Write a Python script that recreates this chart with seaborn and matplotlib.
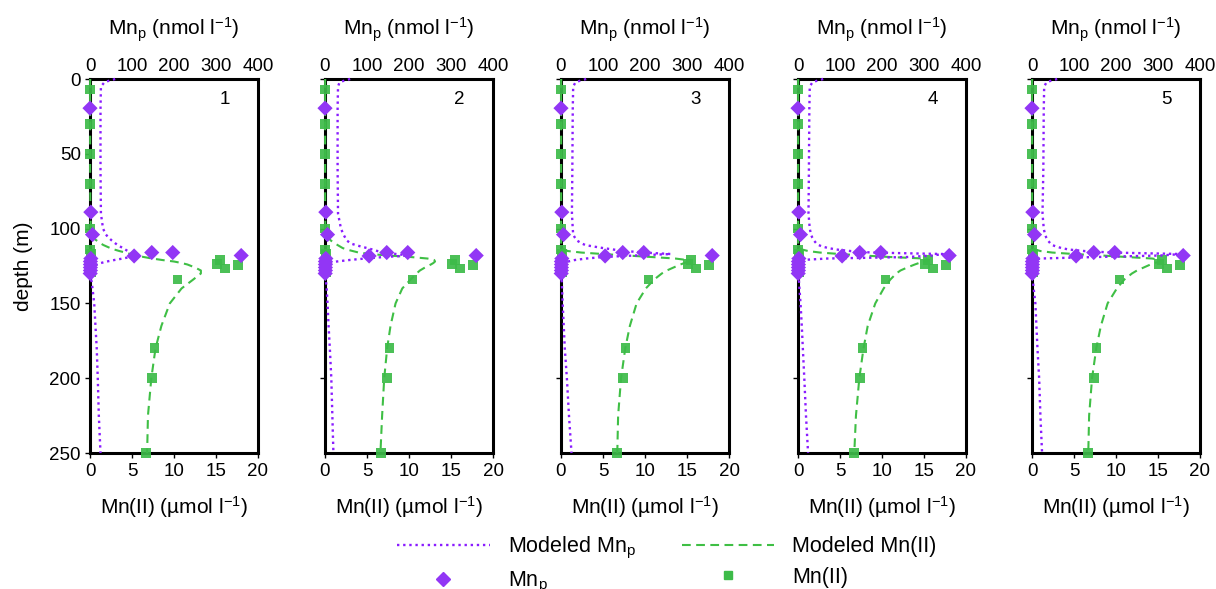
import matplotlib
matplotlib.use("Agg")
import matplotlib.pyplot as plt
from matplotlib.lines import Line2D
import seaborn as sns

sns.set_theme(style="white")
plt.rcParams["font.family"] = ["Liberation Sans", "DejaVu Sans"]
plt.rcParams["mathtext.fontset"] = "custom"
plt.rcParams["mathtext.rm"] = "Liberation Sans"
plt.rcParams["mathtext.it"] = "Liberation Sans:italic"
plt.rcParams["mathtext.default"] = "regular"
for key in ("text.color", "axes.labelcolor", "xtick.color", "ytick.color"):
    plt.rcParams[key] = "black"

# ---- observations (same stations in every run) ----
obs_mn2_depth = [7, 30, 50, 70, 100, 114, 117, 121, 125, 129,
                 121, 123.7, 126.6, 124.3, 134, 180, 200, 250]
obs_mn2 = [0.0, 0.0, 0.0, 0.0, 0.0, 0.0, 0.1, 0.1, 0.1, 0.1,
           15.5, 15.1, 16.1, 17.6, 10.4, 7.7, 7.4, 6.7]

obs_mnp_depth = [19.5, 89, 104, 116, 116, 118.3, 118, 120, 122, 124, 126, 128, 130]
obs_mnp = [0, 2, 6, 147, 197, 105, 360, 2, 1, 1, 1, 1, 0.5]

# ---- model output, one column per run ----
model_depth = [0, 2, 5, 20, 60, 90, 100, 104, 106, 108, 110, 111, 112, 113, 114,
               115, 116, 117, 118, 119, 120, 121, 122, 123, 124, 126, 128, 130,
               134, 140, 150, 165, 180, 200, 225, 250]

model_mnp_1 = [60, 35, 26, 25, 25, 26, 31, 38, 44, 52, 61, 66, 72, 78, 84,
               90, 96, 102, 106, 95, 78, 58, 40, 26, 17, 7, 3, 2,
               3, 6, 10, 13, 16, 18.5, 21, 25]
model_mnp_2 = [60, 35, 31, 30, 30, 31, 38, 44, 48, 52, 62, 73, 86, 100, 113,
               125, 140, 170, 200, 140, 95, 58, 28, 10, 2, 1, 1, 1,
               2, 4, 6, 8.5, 11.5, 15, 17.5, 20]
model_mnp_3 = [60, 35, 29, 28, 27, 26, 28, 29, 33, 38, 50, 58, 78, 100, 125,
               155, 195, 262, 175, 100, 60, 33, 17, 7, 2, 1, 1, 1,
               1.5, 2.5, 4, 6.5, 9, 14, 19, 25]
model_mnp_4 = [60, 35, 28, 27, 26, 25, 28, 31, 34, 38, 44, 49, 58, 72, 92,
               125, 175, 345, 320, 260, 70, 8, 2, 1, 1, 1, 1, 1,
               2, 3.5, 6, 9, 11.5, 15, 19, 24]
model_mnp_5 = [60, 35, 29, 28, 27, 25, 28, 31, 34, 38, 44, 48, 58, 70, 88,
               125, 190, 355, 305, 150, 20, 3, 1, 1, 1, 1, 1, 1,
               2, 4, 8, 10.5, 13, 17, 20, 24]

model_mn2_1 = [0.02, 0.02, 0.02, 0.02, 0.02, 0.05, 0.1, 0.15, 0.3, 0.8, 1.3, 1.6, 2.0, 2.4, 2.9,
               3.5, 4.2, 4.8, 5.5, 6.4, 7.4, 8.6, 10.0, 10.9, 11.6, 12.5, 13.2, 13.2,
               12.3, 10.9, 9.5, 8.5, 7.8, 7.3, 6.9, 6.8]
model_mn2_2 = [0.02, 0.02, 0.02, 0.02, 0.02, 0.02, 0.05, 0.2, 0.4, 0.7, 1.2, 1.5, 1.8, 2.1, 2.6,
               3.3, 4.0, 5.4, 7.6, 10.2, 12.2, 13.0, 13.1, 12.9, 12.6, 11.9, 11.3, 10.9,
               10.2, 9.2, 8.4, 7.8, 7.4, 7.05, 6.8, 6.6]
model_mn2_3 = [0.02, 0.02, 0.02, 0.02, 0.02, 0.02, 0.02, 0.02, 0.02, 0.02, 0.02, 0.03, 0.05, 0.1, 0.4,
               0.8, 2.4, 5.0, 7.9, 10.8, 13.6, 15.0, 15.2, 14.7, 14.2, 13.4, 12.6, 12.0,
               11.1, 10.1, 9.0, 8.2, 7.65, 7.15, 6.8, 6.7]
model_mn2_4 = [0.02, 0.02, 0.02, 0.02, 0.02, 0.02, 0.02, 0.02, 0.02, 0.02, 0.02, 0.03, 0.04, 0.05, 0.5,
               1.2, 2.6, 5.0, 7.8, 11.0, 15.0, 15.6, 15.1, 14.4, 13.9, 13.0, 12.2, 11.7,
               11.0, 10.2, 9.2, 8.3, 7.8, 7.3, 6.9, 6.7]
model_mn2_5 = [0.02, 0.02, 0.02, 0.02, 0.02, 0.02, 0.02, 0.02, 0.02, 0.02, 0.02, 0.03, 0.04, 0.05, 0.4,
               1.0, 2.4, 5.0, 8.4, 11.3, 14.3, 15.4, 15.2, 14.6, 14.1, 13.3, 12.5, 11.9,
               11.0, 10.1, 9.0, 8.2, 7.65, 7.15, 6.8, 6.7]

panel_labels = ["1", "2", "3", "4", "5"]
model_mnp = [model_mnp_1, model_mnp_2, model_mnp_3, model_mnp_4, model_mnp_5]
model_mn2 = [model_mn2_1, model_mn2_2, model_mn2_3, model_mn2_4, model_mn2_5]

mn2_ticks = [0, 5, 10, 15, 20]
mnp_ticks = [0, 100, 200, 300, 400]

# ---- styling ----
PURPLE_LINE = "#8a1cff"
PURPLE_MARK = "#9236f5"
GREEN_LINE = "#3fbf45"
GREEN_MARK = "#3dbb49"
LABEL_FS = 15
TICK_FS = 13.5
LEGEND_FS = 15.5
dotted = (0, (1.0, 1.6))
dashed = (0, (4.2, 2.6))

fig = plt.figure(figsize=(12.16, 5.89), dpi=100)
W, H = 1216, 589
lefts = [90, 325, 561, 798, 1032]
ax_w, ax_top, ax_bot = 168, 79, 453

for i, left in enumerate(lefts):
    ax = fig.add_axes([left / W, 1 - ax_bot / H, ax_w / W, (ax_bot - ax_top) / H])
    ax.set_facecolor("none")
    ax.set_ylim(250, 0)
    ax.set_xlim(0, 20)

    # Mn(II): model curve and observations on the bottom axis
    sns.lineplot(x=model_mn2[i], y=model_depth, sort=False, estimator=None, ax=ax,
                 color=GREEN_LINE, lw=1.5, linestyle=dashed, clip_on=False, zorder=3)
    sns.scatterplot(x=obs_mn2, y=obs_mn2_depth, ax=ax, marker="s", s=48,
                    color=GREEN_MARK, edgecolor="none", alpha=0.92,
                    clip_on=False, zorder=4)

    ax.set_xticks(mn2_ticks)
    ax.set_xlabel("Mn(II) (\u00b5mol l$^{-1}$)", fontsize=LABEL_FS, labelpad=10)
    ax.tick_params(axis="x", bottom=True, direction="out", length=3.5, width=1,
                   labelsize=TICK_FS, pad=4)
    if i == 0:
        ax.set_yticks([0, 50, 100, 150, 200, 250])
        ax.set_ylabel("depth (m)", fontsize=LABEL_FS, labelpad=12)
        ax.tick_params(axis="y", left=True, direction="out", length=3.5, width=1,
                       labelsize=TICK_FS, pad=3)
    else:
        ax.set_yticks([0, 100, 200])
        ax.set_yticklabels([])
        ax.set_ylabel("")
        ax.tick_params(axis="y", left=True, direction="out", length=3.5, width=1)
    for sp in ax.spines.values():
        sp.set_visible(True)
        sp.set_color("black")
        sp.set_linewidth(2.2)
        sp.set_zorder(2.5)

    # Mn_p: model curve and observations on the top axis
    tx = ax.twiny()
    tx.set_xlim(0, 400)
    sns.lineplot(x=model_mnp[i], y=model_depth, sort=False, estimator=None, ax=tx,
                 color=PURPLE_LINE, lw=1.7, linestyle=dotted, clip_on=False, zorder=3)
    sns.scatterplot(x=obs_mnp, y=obs_mnp_depth, ax=tx, marker="D", s=60,
                    color=PURPLE_MARK, edgecolor="none", clip_on=False, zorder=4)
    tx.set_ylim(250, 0)
    tx.set_xticks(mnp_ticks)
    tx.set_xlabel("Mn$_\\mathrm{p}$ (nmol l$^{-1}$)", fontsize=LABEL_FS, labelpad=16)
    tx.tick_params(axis="x", top=True, direction="out", length=0, width=1,
                   labelsize=TICK_FS, pad=3)
    for sp in tx.spines.values():
        sp.set_visible(False)

    ax.text(0.80, 0.945, panel_labels[i], transform=ax.transAxes,
            fontsize=TICK_FS, ha="center", va="center")

handles = [
    Line2D([], [], color=PURPLE_LINE, lw=1.7, linestyle=dotted),
    Line2D([], [], color=PURPLE_MARK, marker="D", markersize=7, linestyle="none"),
    Line2D([], [], color=GREEN_LINE, lw=1.5, linestyle=dashed),
    Line2D([], [], color=GREEN_MARK, marker="s", markersize=6, linestyle="none"),
]
labels = ["Modeled Mn$_\\mathrm{p}$", "Mn$_\\mathrm{p}$",
          "Modeled Mn(II)", "Mn(II)"]
fig.legend(handles, labels, ncol=2, loc="center",
           bbox_to_anchor=(667 / W, 1 - 565 / H), frameon=False, fontsize=LEGEND_FS,
           handlelength=4.3, handletextpad=0.85, columnspacing=2.1,
           labelspacing=0.45, numpoints=1)

fig.savefig("out.png", dpi=100)
